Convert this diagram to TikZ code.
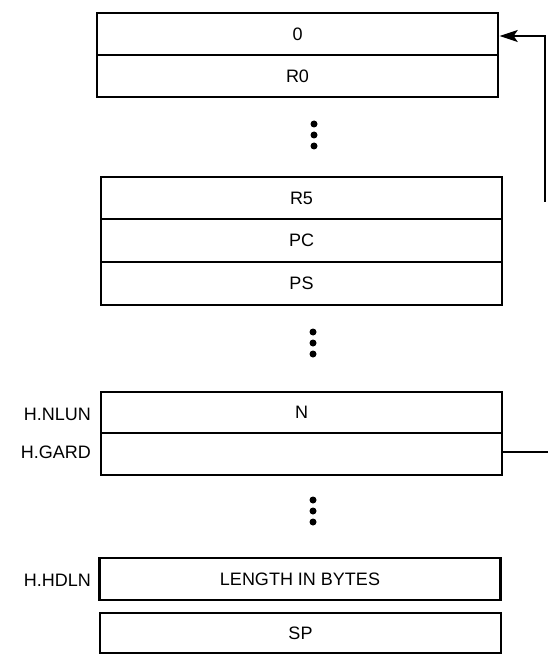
\documentclass[tikz,border=0pt]{standalone}
\usepackage{fontspec}
\setmainfont{Liberation Sans}
\usetikzlibrary{arrows.meta}
\begin{document}
\begin{tikzpicture}[x=1pt,y=-1pt,
  cell/.style={draw,line width=1.4pt,minimum width=401pt,minimum height=42pt,inner sep=0pt,font=\fontsize{18}{20}\selectfont,anchor=center},
  outer/.style={draw,line width=2.2pt},
  lbl/.style={anchor=east,inner sep=0pt,font=\fontsize{18}{20}\selectfont},
  arr/.style={line width=1.6pt,-{Stealth[length=18pt,width=12pt,inset=4pt]}}]
\useasboundingbox (0,0) rectangle (548,660);
% top block
\node[cell] (c0) at (297.5,34) {0};
\node[cell] (cR0) at (297.5,76) {R0};
\draw[outer] (97,13) rectangle (498,97);
\fill (314,124) circle (3.5pt) (314,135) circle (3.5pt) (314,146) circle (3.5pt);
% middle block
\node[cell] (cR5) at (301.5,198) {R5};
\node[cell] (cPC) at (301.5,240.5) {PC};
\node[cell] (cPS) at (301.5,283.5) {PS};
\draw[outer] (101,177) rectangle (502,305);
\fill (313,332) circle (3.5pt) (313,343) circle (3.5pt) (313,354) circle (3.5pt);
% N block
\node[cell] (cN) at (301.5,412.5) {N};
\node[cell] (cG) at (301.5,454) {};
\draw[outer] (101,392) rectangle (502,475);
\node[lbl] (lN) at (91,414) {H.NLUN};
\node[lbl] (lG) at (91,452) {H.GARD};
\fill (313,500) circle (3.5pt) (313,511) circle (3.5pt) (313,522) circle (3.5pt);
% length
\node[cell,line width=2.2pt] (cL) at (300,579) {LENGTH IN BYTES};
\node[lbl] (lH) at (91,580) {H.HDLN};
\node[cell,line width=2.2pt,minimum height=40pt] (cSP) at (300.5,633) {SP};
% connectors
\coordinate (loopStart) at (545,202);
\draw[arr] (loopStart) |- ([yshift=-2pt,xshift=1pt]c0.east);
\coordinate (gardEnd) at (548,452);
\draw[line width=1.2pt] (cG.east |- gardEnd) -- (gardEnd);
\end{tikzpicture}
\end{document}
